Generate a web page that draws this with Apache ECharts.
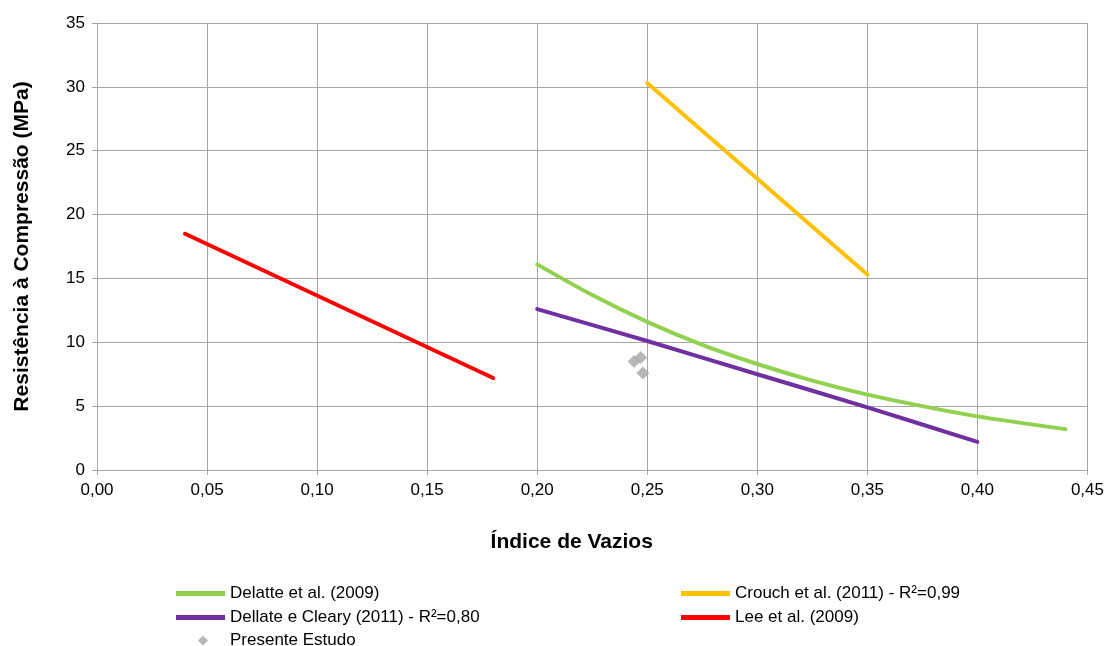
<!DOCTYPE html>
<html>
<head>
<meta charset="utf-8">
<script src="https://cdn.jsdelivr.net/npm/echarts@6/dist/echarts.min.js"></script>
<style>
  html, body { margin: 0; padding: 0; background: #fff; }
  #chart { width: 1107px; height: 646px; }
</style>
</head>
<body>
<div id="chart"></div>
<script>
// Void ratio (x) vs compressive strength in MPa (y)
const delatte2009X = [0.20, 0.225, 0.25, 0.275, 0.30, 0.325, 0.35, 0.375, 0.40, 0.44];
const delatte2009Y = [16.1, 13.7, 11.6, 9.8, 8.3, 7.0, 5.9, 5.0, 4.2, 3.2];

const dellateClearyX = [0.20, 0.25, 0.30, 0.35, 0.40];
const dellateClearyY = [12.6, 10.1, 7.5, 4.9, 2.2];

const crouchX = [0.25, 0.35];
const crouchY = [30.3, 15.3];

const leeX = [0.04, 0.18];
const leeY = [18.5, 7.2];

const presenteX = [0.244, 0.247, 0.248];
const presenteY = [8.5, 8.8, 7.6];

const xTicks = { min: 0, max: 0.45, step: 0.05 };
const yTicks = { min: 0, max: 35, step: 5 };

const zip = (xs, ys) => xs.map((x, i) => [x, ys[i]]);
const fmt = v => v.toFixed(2).replace('.', ',');

const FONT = '"Liberation Sans", Arial, sans-serif';
const GRID_COLOR = '#A6A6A6';

const chart = echarts.init(document.getElementById('chart'));

const lineSeries = (name, data, color, smooth) => ({
  name, type: 'line', data, smooth: smooth ? 0.3 : false,
  showSymbol: false, symbol: 'none',
  lineStyle: { color, width: 4, cap: 'round' },
  itemStyle: { color },
  z: 3
});

const legendText = { fontSize: 17, color: '#000', fontFamily: FONT };

chart.setOption({
  animation: false,
  textStyle: { fontFamily: FONT },
  grid: { left: 97, right: 19, top: 23, bottom: 176, containLabel: false },
  xAxis: {
    type: 'value', min: xTicks.min, max: xTicks.max, interval: xTicks.step,
    name: 'Índice de Vazios', nameLocation: 'middle', nameGap: 62,
    nameTextStyle: { fontSize: 21, fontWeight: 'bold', color: '#000', fontFamily: FONT, padding: [0, 41, 0, 0] },
    axisLine: { lineStyle: { color: GRID_COLOR, width: 1 } },
    axisTick: { show: true, length: 5, lineStyle: { color: GRID_COLOR } },
    axisLabel: { formatter: fmt, fontSize: 17, color: '#000', margin: 12, fontFamily: FONT },
    splitLine: { show: true, lineStyle: { color: GRID_COLOR, width: 1 } }
  },
  yAxis: {
    type: 'value', min: yTicks.min, max: yTicks.max, interval: yTicks.step,
    name: 'Resistência à Compressão (MPa)', nameLocation: 'middle', nameGap: 64, nameRotate: 90,
    nameTextStyle: { fontSize: 21, fontWeight: 'bold', color: '#000', fontFamily: FONT },
    axisLine: { show: true, lineStyle: { color: GRID_COLOR, width: 1 } },
    axisTick: { show: true, length: 5, lineStyle: { color: GRID_COLOR } },
    axisLabel: { fontSize: 17, color: '#000', margin: 12, fontFamily: FONT },
    splitLine: { show: true, lineStyle: { color: GRID_COLOR, width: 1 } }
  },
  legend: [
    {
      left: 176, top: 585, orient: 'vertical', itemGap: 7, padding: 0,
      itemWidth: 49, itemHeight: 5, icon: 'rect',
      textStyle: legendText,
      data: ['Delatte et al. (2009)', 'Dellate e Cleary (2011) - R²=0,80']
    },
    {
      left: 681, top: 585, orient: 'vertical', itemGap: 7, padding: 0,
      itemWidth: 49, itemHeight: 5, icon: 'rect',
      textStyle: legendText,
      data: ['Crouch et al. (2011) - R²=0,99', 'Lee et al. (2009)']
    },
    {
      left: 198, top: 632, orient: 'vertical', padding: 0,
      itemWidth: 10, itemHeight: 10, icon: 'diamond',
      textStyle: Object.assign({}, legendText, { padding: [0, 0, 0, 17] }),
      data: ['Presente Estudo']
    }
  ],
  series: [
    lineSeries('Delatte et al. (2009)', zip(delatte2009X, delatte2009Y), '#92D050', true),
    lineSeries('Crouch et al. (2011) - R²=0,99', zip(crouchX, crouchY), '#FFC000', false),
    lineSeries('Dellate e Cleary (2011) - R²=0,80', zip(dellateClearyX, dellateClearyY), '#7030A0', true),
    lineSeries('Lee et al. (2009)', zip(leeX, leeY), '#FF0000', false),
    {
      name: 'Presente Estudo', type: 'scatter', data: zip(presenteX, presenteY),
      symbol: 'diamond', symbolSize: 13,
      itemStyle: { color: '#A6A6A6' }, z: 4
    }
  ]
});
</script>
</body>
</html>
